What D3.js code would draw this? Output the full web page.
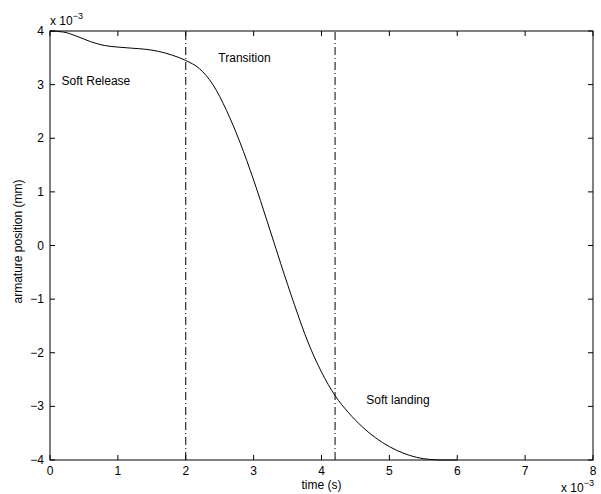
<!DOCTYPE html>
<html>
<head>
<meta charset="utf-8">
<script src="https://cdn.jsdelivr.net/npm/d3@7"></script>
<style>
  body { margin: 0; background: #fff; }
  text { font-family: "Liberation Sans", Arial, sans-serif; font-size: 12px; fill: #000; }
</style>
</head>
<body>
<svg id="chart"></svg>
<script>
// time in units of 1e-3 s, position in units of 1e-3 mm
var timeVals = [0, 0.2, 0.4, 0.6, 0.8, 1.0, 1.2, 1.4, 1.6, 1.8, 2.0, 2.2, 2.4, 2.6, 2.8, 3.0, 3.2, 3.4, 3.6, 3.8, 4.0, 4.2, 4.4, 4.6, 4.8, 5.0, 5.2, 5.4, 5.6, 5.8, 6.0];
var posVals = [4.0, 3.98, 3.90, 3.80, 3.73, 3.70, 3.68, 3.66, 3.62, 3.55, 3.45, 3.30, 3.00, 2.52, 1.92, 1.22, 0.45, -0.34, -1.10, -1.80, -2.36, -2.80, -3.12, -3.38, -3.59, -3.75, -3.87, -3.95, -3.99, -4.0, -4.0];
var phaseLines = [2.0, 4.2];
var phaseLabels = [
  {t: 0.17, v: 3.0, text: "Soft Release"},
  {t: 2.48, v: 3.42, text: "Transition"},
  {t: 4.66, v: -2.96, text: "Soft landing"}
];
var xTicks = [0, 1, 2, 3, 4, 5, 6, 7, 8];
var yTicks = [-4, -3, -2, -1, 0, 1, 2, 3, 4];

var width = 601, height = 494;
var margin = {left: 50, right: 8, top: 31, bottom: 34};

var svg = d3.select("#chart").attr("width", width).attr("height", height);

var x = d3.scaleLinear().domain([0, 8]).range([margin.left, width - margin.right]);
var y = d3.scaleLinear().domain([-4, 4]).range([height - margin.bottom, margin.top]);

var data = timeVals.map(function(t, i) { return {t: t, v: posVals[i]}; });

// box
svg.append("rect")
   .attr("x", x(0)).attr("y", y(4))
   .attr("width", x(8) - x(0)).attr("height", y(-4) - y(4))
   .attr("fill", "none").attr("stroke", "#000").attr("stroke-width", 1);

var tickLen = 5;

// x ticks bottom and top (inward)
var xa = svg.append("g");
xTicks.forEach(function(d) {
  xa.append("line").attr("x1", x(d)).attr("x2", x(d)).attr("y1", y(-4)).attr("y2", y(-4) - tickLen).attr("stroke", "#000");
  xa.append("line").attr("x1", x(d)).attr("x2", x(d)).attr("y1", y(4)).attr("y2", y(4) + tickLen).attr("stroke", "#000");
  xa.append("text").attr("x", x(d)).attr("y", y(-4) + 15).attr("text-anchor", "middle").text(d);
});

// y ticks left and right (inward)
var ya = svg.append("g");
yTicks.forEach(function(d) {
  ya.append("line").attr("x1", x(0)).attr("x2", x(0) + tickLen).attr("y1", y(d)).attr("y2", y(d)).attr("stroke", "#000");
  ya.append("line").attr("x1", x(8)).attr("x2", x(8) - tickLen).attr("y1", y(d)).attr("y2", y(d)).attr("stroke", "#000");
  ya.append("text").attr("x", x(0) - 6).attr("y", y(d) + 4).attr("text-anchor", "end")
    .text(d < 0 ? "\u2212" + Math.abs(d) : d);
});

// exponent labels
var ex1 = svg.append("text").attr("x", x(0)).attr("y", y(4) - 6);
ex1.append("tspan").text("x 10");
ex1.append("tspan").attr("dy", -6).style("font-size", "9px").text("\u22123");

var ex2 = svg.append("text").attr("x", 561).attr("y", 492);
ex2.append("tspan").text("x 10");
ex2.append("tspan").attr("dy", -6).style("font-size", "9px").text("\u22123");

// axis titles
svg.append("text").attr("x", (x(0) + x(8)) / 2).attr("y", y(-4) + 29).attr("text-anchor", "middle").text("time (s)");
svg.append("text")
   .attr("transform", "translate(22," + (y(0) - 4) + ") rotate(-90)")
   .attr("text-anchor", "middle").text("armature position (mm)");

// phase separators
svg.selectAll(".phase")
   .data(phaseLines)
   .enter().append("line")
   .attr("class", "phase")
   .attr("x1", function(d) { return x(d); }).attr("x2", function(d) { return x(d); })
   .attr("y1", y(-4)).attr("y2", y(4))
   .attr("stroke", "#000").attr("stroke-width", 1)
   .attr("stroke-dasharray", "8,3,1,3");

// curve
var line = d3.line()
  .x(function(d) { return x(d.t); })
  .y(function(d) { return y(d.v); })
  .curve(d3.curveMonotoneX);

svg.append("path")
   .datum(data)
   .attr("d", line)
   .attr("fill", "none").attr("stroke", "#000").attr("stroke-width", 1);

// phase labels
svg.selectAll(".lbl")
   .data(phaseLabels)
   .enter().append("text")
   .attr("class", "lbl")
   .attr("x", function(d) { return x(d.t); })
   .attr("y", function(d) { return y(d.v); })
   .text(function(d) { return d.text; });
</script>
</body>
</html>
